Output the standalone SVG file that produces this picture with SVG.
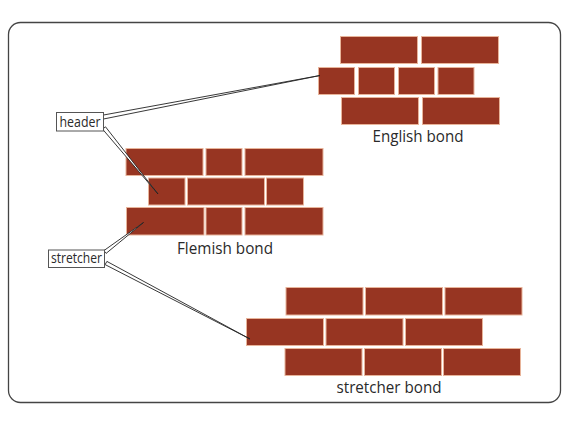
<svg xmlns="http://www.w3.org/2000/svg" width="568" height="426" viewBox="0 0 568 426">
<style>
.brick{fill:#973522;stroke:#e8b49a;stroke-width:1}
.lbl{fill:#fff;stroke:#555;stroke-width:1}
.t{font-family:"Open Sans","Liberation Sans",sans-serif;fill:#2a2a2a}
.cap{font-size:16px;text-anchor:middle}
.small{font-size:14px}
.lead{fill:#fff;stroke:#222;stroke-width:0.9;stroke-linejoin:round}
</style>
<rect width="568" height="426" fill="#fff"/>
<rect x="8.5" y="22.5" width="552" height="380" rx="12" fill="#fff" stroke="#444" stroke-width="1.3"/>
<g id="english-bond">
<rect class="brick" x="340.5" y="36.5" width="77" height="27"/>
<rect class="brick" x="421.5" y="36.5" width="77" height="27"/>
<rect class="brick" x="318.5" y="67.5" width="36" height="27"/>
<rect class="brick" x="358.5" y="67.5" width="36" height="27"/>
<rect class="brick" x="398.5" y="67.5" width="36" height="27"/>
<rect class="brick" x="438" y="67.5" width="36" height="27"/>
<rect class="brick" x="341.5" y="97.5" width="77" height="27"/>
<rect class="brick" x="422.5" y="97.5" width="77" height="27"/>
<text class="t cap" x="418" y="142" textLength="91" lengthAdjust="spacingAndGlyphs">English bond</text>
</g>
<g id="flemish-bond">
<rect class="brick" x="126" y="148.5" width="77" height="27"/>
<rect class="brick" x="206" y="148.5" width="36" height="27"/>
<rect class="brick" x="245" y="148.5" width="78" height="27"/>
<rect class="brick" x="148.5" y="178" width="36.5" height="27"/>
<rect class="brick" x="187.5" y="178" width="77" height="27"/>
<rect class="brick" x="266.5" y="178" width="37" height="27"/>
<rect class="brick" x="126.5" y="207.5" width="77.5" height="27.5"/>
<rect class="brick" x="206" y="207.5" width="36" height="27.5"/>
<rect class="brick" x="245" y="207.5" width="78" height="27.5"/>
<text class="t cap" x="225" y="254" textLength="96" lengthAdjust="spacingAndGlyphs">Flemish bond</text>
</g>
<g id="stretcher-bond">
<rect class="brick" x="286" y="287.5" width="77" height="27.5"/>
<rect class="brick" x="365.5" y="287.5" width="77" height="27.5"/>
<rect class="brick" x="445" y="287.5" width="77" height="27.5"/>
<rect class="brick" x="246.5" y="318.5" width="77" height="27"/>
<rect class="brick" x="326" y="318.5" width="77" height="27"/>
<rect class="brick" x="405.5" y="318.5" width="77" height="27"/>
<rect class="brick" x="285" y="348.5" width="77" height="27"/>
<rect class="brick" x="364.5" y="348.5" width="77" height="27"/>
<rect class="brick" x="443.5" y="348.5" width="77" height="27"/>
<text class="t cap" x="389" y="393" textLength="105" lengthAdjust="spacingAndGlyphs">stretcher bond</text>
</g>
<g id="connectors">
<polygon class="lead" points="103.5,115 103.5,119 320,75.5"/>
<polygon class="lead" points="105.5,126.8 102.6,129.2 158,194"/>
<polygon class="lead" points="103.9,250.6 106.1,253.4 143.5,222.5"/>
<polygon class="lead" points="106.9,261.4 105.1,264.6 250,339"/>
</g>
<g id="header-label">
<rect class="lbl" x="56.5" y="112.5" width="47" height="18.5"/>
<text class="t small" x="80" y="126.5" text-anchor="middle" textLength="41" lengthAdjust="spacingAndGlyphs">header</text>
</g>
<g id="stretcher-label">
<rect class="lbl" x="48.5" y="250" width="56" height="17.5"/>
<text class="t small" x="76.5" y="263" text-anchor="middle" textLength="51" lengthAdjust="spacingAndGlyphs">stretcher</text>
</g>
</svg>
